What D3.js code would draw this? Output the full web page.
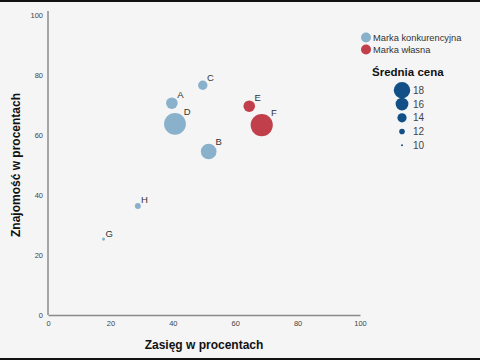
<!DOCTYPE html>
<html>
<head>
<meta charset="utf-8">
<script src="https://cdn.jsdelivr.net/npm/d3@7"></script>
<style>
  body { margin: 0; background: #f5f5f5; }
  svg { display: block; font-family: "Liberation Sans", Arial, sans-serif; }
</style>
</head>
<body>
<svg id="chart" width="480" height="360"></svg>
<script>
// brands
var brands = ["A", "B", "C", "D", "E", "F", "G", "H"];
var reach = [39.7, 51.5, 49.6, 40.7, 64.5, 68.5, 17.8, 28.8];      // Zasięg
var awareness = [70.6, 54.5, 76.6, 63.7, 69.6, 63.3, 25.3, 36.3];  // Znajomość
var price = [15.3, 17.6, 14.1, 21, 15.3, 21.2, 10.6, 12.2];        // Średnia cena
var brandType = ["k", "k", "k", "k", "w", "w", "k", "k"];

var typeKeys = ["k", "w"];
var typeLabels = ["Marka konkurencyjna", "Marka własna"];
var typeColors = ["#8ab1cb", "#c13f4a"];

var xTicks = [0, 20, 40, 60, 80, 100];
var yTicks = [0, 20, 40, 60, 80, 100];
var sizeLegend = [18, 16, 14, 12, 10];

var svg = d3.select("#chart");

// dark strips top/bottom of the screenshot
svg.append("rect").attr("x", 0).attr("y", 0).attr("width", 480).attr("height", 2).attr("fill", "#111");
svg.append("rect").attr("x", 0).attr("y", 358).attr("width", 480).attr("height", 2).attr("fill", "#111");

var x = d3.scaleLinear().domain([0, 100]).range([48, 360]);
var y = d3.scaleLinear().domain([0, 100]).range([315, 15]);
var r = d3.scaleLinear().domain([10, 18]).range([1, 8.2]);
var color = d3.scaleOrdinal().domain(typeKeys).range(typeColors);

// axes
var xAxis = svg.append("g")
  .attr("transform", "translate(0,315)")
  .call(d3.axisBottom(x).tickValues(xTicks).tickSize(0).tickPadding(6));
var yAxis = svg.append("g")
  .attr("transform", "translate(48,0)")
  .call(d3.axisLeft(y).tickValues(yTicks).tickSize(0).tickPadding(5));

[xAxis, yAxis].forEach(function(a) {
  a.select(".domain").attr("stroke", "#8a8a8a").attr("stroke-width", 1.5);
  a.selectAll("text").attr("fill", "#444").attr("font-size", "7.5px");
});
yAxis.select(".domain").attr("d", "M0,315V11");

// axis titles
svg.append("text")
  .attr("x", 204).attr("y", 349)
  .attr("text-anchor", "middle")
  .attr("font-weight", "bold").attr("font-size", "12px").attr("fill", "#111")
  .text("Zasięg w procentach");

svg.append("text")
  .attr("transform", "translate(20,165) rotate(-90)")
  .attr("text-anchor", "middle")
  .attr("font-weight", "bold").attr("font-size", "12px").attr("fill", "#111")
  .text("Znajomość w procentach");

// bubbles
var nodes = brands.map(function(b, i) {
  return { name: b, x: reach[i], y: awareness[i], p: price[i], t: brandType[i] };
});

var node = svg.selectAll("g.node")
  .data(nodes)
  .enter().append("g")
  .attr("class", "node")
  .attr("transform", function(d) { return "translate(" + x(d.x) + "," + y(d.y) + ")"; });

node.append("circle")
  .attr("r", function(d) { return r(d.p); })
  .attr("fill", function(d) { return color(d.t); });

node.append("text")
  .attr("x", function(d) { return r(d.p) * 0.7 + 4.5; })
  .attr("y", function(d) { return -(r(d.p) * 0.7 + 4.5); })
  .attr("dy", ".35em")
  .attr("text-anchor", "middle")
  .attr("font-size", "9.5px").attr("fill", "#333")
  .text(function(d) { return d.name; });

// type legend
var legend = svg.selectAll(".legend")
  .data(typeKeys)
  .enter().append("g")
  .attr("class", "legend")
  .attr("transform", function(d, i) { return "translate(366," + (37.5 + i * 12) + ")"; });

legend.append("circle").attr("r", 5).attr("fill", color);
legend.append("text")
  .attr("x", 7).attr("dy", ".35em")
  .attr("font-size", "9.3px").attr("fill", "#333")
  .text(function(d, i) { return typeLabels[i]; });

// size legend
svg.append("text")
  .attr("x", 372).attr("y", 76)
  .attr("font-weight", "bold").attr("font-size", "11.5px").attr("fill", "#111")
  .text("Średnia cena");

var sizeY = d3.scalePoint().domain(sizeLegend).range([90.3, 145.3]);
var sl = svg.selectAll(".size-legend")
  .data(sizeLegend)
  .enter().append("g")
  .attr("class", "size-legend")
  .attr("transform", function(d) { return "translate(402," + sizeY(d) + ")"; });

sl.append("circle").attr("r", function(d) { return r(d); }).attr("fill", "#124f86");
sl.append("text")
  .attr("x", 11).attr("dy", ".35em")
  .attr("font-size", "10px").attr("fill", "#444")
  .text(function(d) { return d; });
</script>
</body>
</html>
